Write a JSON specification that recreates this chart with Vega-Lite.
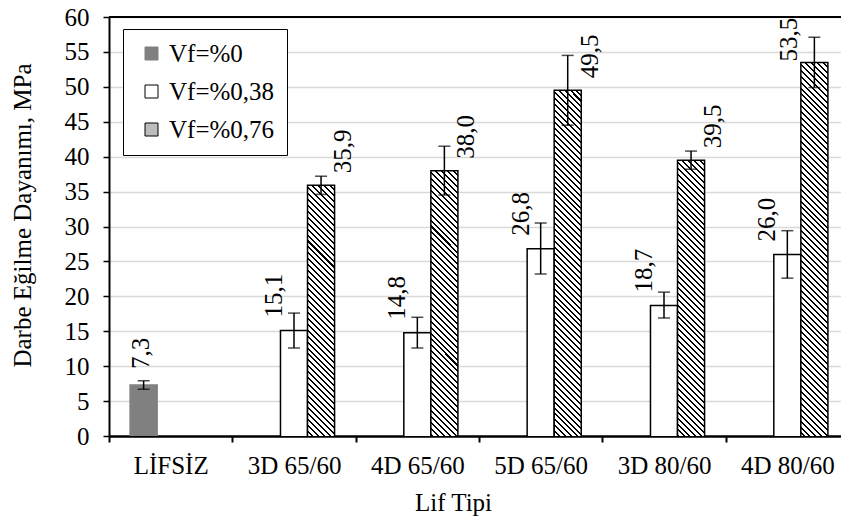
{
  "$schema": "https://vega.github.io/schema/vega-lite/v6.json",
  "width": 732,
  "height": 419,
  "autosize": {"type": "none"},
  "padding": {"left": 109, "top": 17, "right": 0, "bottom": 84},
  "config": {
    "font": "Liberation Serif",
    "view": {"stroke": null},
    "locale": {"number": {"decimal": ",", "thousands": ".", "grouping": [3], "currency": ["", ""]}},
    "text": {"font": "Liberation Serif"},
    "axis": {"labelFont": "Liberation Serif", "titleFont": "Liberation Serif", "labelFontSize": 25, "titleFontSize": 25, "labelColor": "black", "titleColor": "black", "titleFontWeight": "normal", "domainColor": "black", "tickColor": "black", "labelOverlap": false},
    "axisY": {"tickCount": 30, "labelOverlap": false},
    "legend": {"labelFont": "Liberation Serif", "orient": "none", "legendX": 14, "legendY": 12, "labelFontSize": 25, "labelColor": "black", "symbolType": "square", "symbolSize": 169, "symbolStrokeWidth": 1, "strokeColor": "black", "fillColor": "white", "padding": 12, "rowPadding": 12, "labelOffset": 5, "symbolOffset": 4}
  },
  "data": {"values": [
    {"Lif": "LİFSİZ", "Vf": "Vf=%0", "value": 7.3, "lo": 6.7, "hi": 7.9},
    {"Lif": "3D 65/60", "Vf": "Vf=%0,38", "value": 15.1, "lo": 12.6, "hi": 17.6},
    {"Lif": "3D 65/60", "Vf": "Vf=%0,76", "value": 35.9, "lo": 34.6, "hi": 37.2},
    {"Lif": "4D 65/60", "Vf": "Vf=%0,38", "value": 14.8, "lo": 12.6, "hi": 17.0},
    {"Lif": "4D 65/60", "Vf": "Vf=%0,76", "value": 38.0, "lo": 34.5, "hi": 41.5},
    {"Lif": "5D 65/60", "Vf": "Vf=%0,38", "value": 26.8, "lo": 23.2, "hi": 30.5},
    {"Lif": "5D 65/60", "Vf": "Vf=%0,76", "value": 49.5, "lo": 44.5, "hi": 54.5},
    {"Lif": "3D 80/60", "Vf": "Vf=%0,38", "value": 18.7, "lo": 16.9, "hi": 20.6},
    {"Lif": "3D 80/60", "Vf": "Vf=%0,76", "value": 39.5, "lo": 38.2, "hi": 40.8},
    {"Lif": "4D 80/60", "Vf": "Vf=%0,38", "value": 26.0, "lo": 22.6, "hi": 29.4},
    {"Lif": "4D 80/60", "Vf": "Vf=%0,76", "value": 53.5, "lo": 49.9, "hi": 57.1}
  ]},
  "layer": [
    {
      "mark": {"type": "bar", "clip": true, "y2Offset": 419, "strokeWidth": 1.5},
      "encoding": {
        "x": {"field": "Lif", "type": "nominal", "sort": null,
          "scale": {"domain": ["LİFSİZ", "3D 65/60", "4D 65/60", "5D 65/60", "3D 80/60", "4D 80/60"], "range": [0, 740], "paddingInner": 0, "paddingOuter": 0},
          "axis": {"title": "Lif Tipi", "tickBand": "extent", "labelAngle": 0, "tickSize": 6, "tickWidth": 2, "domainWidth": 2.5, "labelPadding": 11, "titleX": 344, "titleY": 74, "titleAlign": "center", "titleBaseline": "alphabetic", "grid": false}},
        "xOffset": {"field": "Vf", "type": "nominal", "scale": {"domain": ["Vf=%0", "Vf=%0,38", "Vf=%0,76"], "paddingInner": 0, "paddingOuter": 0.78}},
        "y": {"field": "value", "type": "quantitative",
          "scale": {"domain": [0, 60], "nice": false},
          "axis": {"title": "Darbe Eğilme Dayanımı, MPa", "values": [0, 5, 10, 15, 20, 25, 30, 35, 40, 45, 50, 55, 60], "tickCount": 30, "labelOverlap": false, "grid": true, "gridColor": "#d9d9d9", "gridWidth": 1.3, "tickSize": 6, "tickWidth": 1.5, "domainWidth": 2, "labelPadding": 14, "titleX": -87, "titleY": 198, "titleAngle": 270, "titleAlign": "center", "titleBaseline": "middle"}},
        "y2": {"field": "value"},
        "fill": {"field": "Vf", "type": "nominal", "legend": {"title": null},
          "scale": {"domain": ["Vf=%0", "Vf=%0,38", "Vf=%0,76"], "range": ["#808080", "#ffffff", "#bdbdbd"]},
          "condition": {"test": {"field": "Vf", "equal": "Vf=%0,76"}, "value":
            {"gradient": "linear", "x1": 0, "y1": 1, "x2": 0.06844, "y2": -0.0601, "stops": [
{"offset":0,"color":"#000"},{"offset":0.0045,"color":"#000"},{"offset":0.0045,"color":"#fff"},{"offset":0.01333,"color":"#fff"},
{"offset":0.01333,"color":"#000"},{"offset":0.01783,"color":"#000"},{"offset":0.01783,"color":"#fff"},{"offset":0.02667,"color":"#fff"},
{"offset":0.02667,"color":"#000"},{"offset":0.03117,"color":"#000"},{"offset":0.03117,"color":"#fff"},{"offset":0.04,"color":"#fff"},
{"offset":0.04,"color":"#000"},{"offset":0.0445,"color":"#000"},{"offset":0.0445,"color":"#fff"},{"offset":0.05333,"color":"#fff"},
{"offset":0.05333,"color":"#000"},{"offset":0.05783,"color":"#000"},{"offset":0.05783,"color":"#fff"},{"offset":0.06667,"color":"#fff"},
{"offset":0.06667,"color":"#000"},{"offset":0.07117,"color":"#000"},{"offset":0.07117,"color":"#fff"},{"offset":0.08,"color":"#fff"},
{"offset":0.08,"color":"#000"},{"offset":0.0845,"color":"#000"},{"offset":0.0845,"color":"#fff"},{"offset":0.09333,"color":"#fff"},
{"offset":0.09333,"color":"#000"},{"offset":0.09783,"color":"#000"},{"offset":0.09783,"color":"#fff"},{"offset":0.10667,"color":"#fff"},
{"offset":0.10667,"color":"#000"},{"offset":0.11117,"color":"#000"},{"offset":0.11117,"color":"#fff"},{"offset":0.12,"color":"#fff"},
{"offset":0.12,"color":"#000"},{"offset":0.1245,"color":"#000"},{"offset":0.1245,"color":"#fff"},{"offset":0.13333,"color":"#fff"},
{"offset":0.13333,"color":"#000"},{"offset":0.13783,"color":"#000"},{"offset":0.13783,"color":"#fff"},{"offset":0.14667,"color":"#fff"},
{"offset":0.14667,"color":"#000"},{"offset":0.15117,"color":"#000"},{"offset":0.15117,"color":"#fff"},{"offset":0.16,"color":"#fff"},
{"offset":0.16,"color":"#000"},{"offset":0.1645,"color":"#000"},{"offset":0.1645,"color":"#fff"},{"offset":0.17333,"color":"#fff"},
{"offset":0.17333,"color":"#000"},{"offset":0.17783,"color":"#000"},{"offset":0.17783,"color":"#fff"},{"offset":0.18667,"color":"#fff"},
{"offset":0.18667,"color":"#000"},{"offset":0.19117,"color":"#000"},{"offset":0.19117,"color":"#fff"},{"offset":0.2,"color":"#fff"},
{"offset":0.2,"color":"#000"},{"offset":0.2045,"color":"#000"},{"offset":0.2045,"color":"#fff"},{"offset":0.21333,"color":"#fff"},
{"offset":0.21333,"color":"#000"},{"offset":0.21783,"color":"#000"},{"offset":0.21783,"color":"#fff"},{"offset":0.22667,"color":"#fff"},
{"offset":0.22667,"color":"#000"},{"offset":0.23117,"color":"#000"},{"offset":0.23117,"color":"#fff"},{"offset":0.24,"color":"#fff"},
{"offset":0.24,"color":"#000"},{"offset":0.2445,"color":"#000"},{"offset":0.2445,"color":"#fff"},{"offset":0.25333,"color":"#fff"},
{"offset":0.25333,"color":"#000"},{"offset":0.25783,"color":"#000"},{"offset":0.25783,"color":"#fff"},{"offset":0.26667,"color":"#fff"},
{"offset":0.26667,"color":"#000"},{"offset":0.27117,"color":"#000"},{"offset":0.27117,"color":"#fff"},{"offset":0.28,"color":"#fff"},
{"offset":0.28,"color":"#000"},{"offset":0.2845,"color":"#000"},{"offset":0.2845,"color":"#fff"},{"offset":0.29333,"color":"#fff"},
{"offset":0.29333,"color":"#000"},{"offset":0.29783,"color":"#000"},{"offset":0.29783,"color":"#fff"},{"offset":0.30667,"color":"#fff"},
{"offset":0.30667,"color":"#000"},{"offset":0.31117,"color":"#000"},{"offset":0.31117,"color":"#fff"},{"offset":0.32,"color":"#fff"},
{"offset":0.32,"color":"#000"},{"offset":0.3245,"color":"#000"},{"offset":0.3245,"color":"#fff"},{"offset":0.33333,"color":"#fff"},
{"offset":0.33333,"color":"#000"},{"offset":0.33783,"color":"#000"},{"offset":0.33783,"color":"#fff"},{"offset":0.34667,"color":"#fff"},
{"offset":0.34667,"color":"#000"},{"offset":0.35117,"color":"#000"},{"offset":0.35117,"color":"#fff"},{"offset":0.36,"color":"#fff"},
{"offset":0.36,"color":"#000"},{"offset":0.3645,"color":"#000"},{"offset":0.3645,"color":"#fff"},{"offset":0.37333,"color":"#fff"},
{"offset":0.37333,"color":"#000"},{"offset":0.37783,"color":"#000"},{"offset":0.37783,"color":"#fff"},{"offset":0.38667,"color":"#fff"},
{"offset":0.38667,"color":"#000"},{"offset":0.39117,"color":"#000"},{"offset":0.39117,"color":"#fff"},{"offset":0.4,"color":"#fff"},
{"offset":0.4,"color":"#000"},{"offset":0.4045,"color":"#000"},{"offset":0.4045,"color":"#fff"},{"offset":0.41333,"color":"#fff"},
{"offset":0.41333,"color":"#000"},{"offset":0.41783,"color":"#000"},{"offset":0.41783,"color":"#fff"},{"offset":0.42667,"color":"#fff"},
{"offset":0.42667,"color":"#000"},{"offset":0.43117,"color":"#000"},{"offset":0.43117,"color":"#fff"},{"offset":0.44,"color":"#fff"},
{"offset":0.44,"color":"#000"},{"offset":0.4445,"color":"#000"},{"offset":0.4445,"color":"#fff"},{"offset":0.45333,"color":"#fff"},
{"offset":0.45333,"color":"#000"},{"offset":0.45783,"color":"#000"},{"offset":0.45783,"color":"#fff"},{"offset":0.46667,"color":"#fff"},
{"offset":0.46667,"color":"#000"},{"offset":0.47117,"color":"#000"},{"offset":0.47117,"color":"#fff"},{"offset":0.48,"color":"#fff"},
{"offset":0.48,"color":"#000"},{"offset":0.4845,"color":"#000"},{"offset":0.4845,"color":"#fff"},{"offset":0.49333,"color":"#fff"},
{"offset":0.49333,"color":"#000"},{"offset":0.49783,"color":"#000"},{"offset":0.49783,"color":"#fff"},{"offset":0.50667,"color":"#fff"},
{"offset":0.50667,"color":"#000"},{"offset":0.51117,"color":"#000"},{"offset":0.51117,"color":"#fff"},{"offset":0.52,"color":"#fff"},
{"offset":0.52,"color":"#000"},{"offset":0.5245,"color":"#000"},{"offset":0.5245,"color":"#fff"},{"offset":0.53333,"color":"#fff"},
{"offset":0.53333,"color":"#000"},{"offset":0.53783,"color":"#000"},{"offset":0.53783,"color":"#fff"},{"offset":0.54667,"color":"#fff"},
{"offset":0.54667,"color":"#000"},{"offset":0.55117,"color":"#000"},{"offset":0.55117,"color":"#fff"},{"offset":0.56,"color":"#fff"},
{"offset":0.56,"color":"#000"},{"offset":0.5645,"color":"#000"},{"offset":0.5645,"color":"#fff"},{"offset":0.57333,"color":"#fff"},
{"offset":0.57333,"color":"#000"},{"offset":0.57783,"color":"#000"},{"offset":0.57783,"color":"#fff"},{"offset":0.58667,"color":"#fff"},
{"offset":0.58667,"color":"#000"},{"offset":0.59117,"color":"#000"},{"offset":0.59117,"color":"#fff"},{"offset":0.6,"color":"#fff"},
{"offset":0.6,"color":"#000"},{"offset":0.6045,"color":"#000"},{"offset":0.6045,"color":"#fff"},{"offset":0.61333,"color":"#fff"},
{"offset":0.61333,"color":"#000"},{"offset":0.61783,"color":"#000"},{"offset":0.61783,"color":"#fff"},{"offset":0.62667,"color":"#fff"},
{"offset":0.62667,"color":"#000"},{"offset":0.63117,"color":"#000"},{"offset":0.63117,"color":"#fff"},{"offset":0.64,"color":"#fff"},
{"offset":0.64,"color":"#000"},{"offset":0.6445,"color":"#000"},{"offset":0.6445,"color":"#fff"},{"offset":0.65333,"color":"#fff"},
{"offset":0.65333,"color":"#000"},{"offset":0.65783,"color":"#000"},{"offset":0.65783,"color":"#fff"},{"offset":0.66667,"color":"#fff"},
{"offset":0.66667,"color":"#000"},{"offset":0.67117,"color":"#000"},{"offset":0.67117,"color":"#fff"},{"offset":0.68,"color":"#fff"},
{"offset":0.68,"color":"#000"},{"offset":0.6845,"color":"#000"},{"offset":0.6845,"color":"#fff"},{"offset":0.69333,"color":"#fff"},
{"offset":0.69333,"color":"#000"},{"offset":0.69783,"color":"#000"},{"offset":0.69783,"color":"#fff"},{"offset":0.70667,"color":"#fff"},
{"offset":0.70667,"color":"#000"},{"offset":0.71117,"color":"#000"},{"offset":0.71117,"color":"#fff"},{"offset":0.72,"color":"#fff"},
{"offset":0.72,"color":"#000"},{"offset":0.7245,"color":"#000"},{"offset":0.7245,"color":"#fff"},{"offset":0.73333,"color":"#fff"},
{"offset":0.73333,"color":"#000"},{"offset":0.73783,"color":"#000"},{"offset":0.73783,"color":"#fff"},{"offset":0.74667,"color":"#fff"},
{"offset":0.74667,"color":"#000"},{"offset":0.75117,"color":"#000"},{"offset":0.75117,"color":"#fff"},{"offset":0.76,"color":"#fff"},
{"offset":0.76,"color":"#000"},{"offset":0.7645,"color":"#000"},{"offset":0.7645,"color":"#fff"},{"offset":0.77333,"color":"#fff"},
{"offset":0.77333,"color":"#000"},{"offset":0.77783,"color":"#000"},{"offset":0.77783,"color":"#fff"},{"offset":0.78667,"color":"#fff"},
{"offset":0.78667,"color":"#000"},{"offset":0.79117,"color":"#000"},{"offset":0.79117,"color":"#fff"},{"offset":0.8,"color":"#fff"},
{"offset":0.8,"color":"#000"},{"offset":0.8045,"color":"#000"},{"offset":0.8045,"color":"#fff"},{"offset":0.81333,"color":"#fff"},
{"offset":0.81333,"color":"#000"},{"offset":0.81783,"color":"#000"},{"offset":0.81783,"color":"#fff"},{"offset":0.82667,"color":"#fff"},
{"offset":0.82667,"color":"#000"},{"offset":0.83117,"color":"#000"},{"offset":0.83117,"color":"#fff"},{"offset":0.84,"color":"#fff"},
{"offset":0.84,"color":"#000"},{"offset":0.8445,"color":"#000"},{"offset":0.8445,"color":"#fff"},{"offset":0.85333,"color":"#fff"},
{"offset":0.85333,"color":"#000"},{"offset":0.85783,"color":"#000"},{"offset":0.85783,"color":"#fff"},{"offset":0.86667,"color":"#fff"},
{"offset":0.86667,"color":"#000"},{"offset":0.87117,"color":"#000"},{"offset":0.87117,"color":"#fff"},{"offset":0.88,"color":"#fff"},
{"offset":0.88,"color":"#000"},{"offset":0.8845,"color":"#000"},{"offset":0.8845,"color":"#fff"},{"offset":0.89333,"color":"#fff"},
{"offset":0.89333,"color":"#000"},{"offset":0.89783,"color":"#000"},{"offset":0.89783,"color":"#fff"},{"offset":0.90667,"color":"#fff"},
{"offset":0.90667,"color":"#000"},{"offset":0.91117,"color":"#000"},{"offset":0.91117,"color":"#fff"},{"offset":0.92,"color":"#fff"},
{"offset":0.92,"color":"#000"},{"offset":0.9245,"color":"#000"},{"offset":0.9245,"color":"#fff"},{"offset":0.93333,"color":"#fff"},
{"offset":0.93333,"color":"#000"},{"offset":0.93783,"color":"#000"},{"offset":0.93783,"color":"#fff"},{"offset":0.94667,"color":"#fff"},
{"offset":0.94667,"color":"#000"},{"offset":0.95117,"color":"#000"},{"offset":0.95117,"color":"#fff"},{"offset":0.96,"color":"#fff"},
{"offset":0.96,"color":"#000"},{"offset":0.9645,"color":"#000"},{"offset":0.9645,"color":"#fff"},{"offset":0.97333,"color":"#fff"},
{"offset":0.97333,"color":"#000"},{"offset":0.97783,"color":"#000"},{"offset":0.97783,"color":"#fff"},{"offset":0.98667,"color":"#fff"},
{"offset":0.98667,"color":"#000"},{"offset":0.99117,"color":"#000"},{"offset":0.99117,"color":"#fff"},{"offset":1,"color":"#fff"}
            ]}
          }},
        "stroke": {"field": "Vf", "type": "nominal", "legend": {"title": null},
          "scale": {"domain": ["Vf=%0", "Vf=%0,38", "Vf=%0,76"], "range": ["#808080", "#000000", "#000000"]}}
      }
    },
    {
      "mark": {"type": "rule", "color": "black", "strokeWidth": 1.5},
      "encoding": {
        "x": {"field": "Lif", "type": "nominal", "sort": null},
        "xOffset": {"field": "Vf", "type": "nominal"},
        "y": {"field": "lo", "type": "quantitative"},
        "y2": {"field": "hi"}
      }
    },
    {
      "mark": {"type": "tick", "color": "black", "thickness": 1.5, "size": 12},
      "encoding": {
        "x": {"field": "Lif", "type": "nominal", "sort": null},
        "xOffset": {"field": "Vf", "type": "nominal"},
        "y": {"field": "lo", "type": "quantitative"}
      }
    },
    {
      "mark": {"type": "tick", "color": "black", "thickness": 1.5, "size": 12},
      "encoding": {
        "x": {"field": "Lif", "type": "nominal", "sort": null},
        "xOffset": {"field": "Vf", "type": "nominal"},
        "y": {"field": "hi", "type": "quantitative"}
      }
    },
    {
      "transform": [{"filter": {"field": "Vf", "equal": "Vf=%0"}}],
      "mark": {"type": "text", "font": "Liberation Serif", "angle": 270, "align": "left", "baseline": "middle", "fontSize": 25, "color": "black", "dx": 16, "dy": -3},
      "encoding": {
        "x": {"field": "Lif", "type": "nominal", "sort": null},
        "xOffset": {"field": "Vf", "type": "nominal"},
        "y": {"field": "value", "type": "quantitative"},
        "text": {"field": "value", "type": "quantitative", "format": ".1f"}
      }
    },
    {
      "transform": [{"filter": {"field": "Vf", "equal": "Vf=%0,38"}}],
      "mark": {"type": "text", "font": "Liberation Serif", "angle": 270, "align": "left", "baseline": "middle", "fontSize": 25, "color": "black", "dx": 13, "dy": -20},
      "encoding": {
        "x": {"field": "Lif", "type": "nominal", "sort": null},
        "xOffset": {"field": "Vf", "type": "nominal"},
        "y": {"field": "value", "type": "quantitative"},
        "text": {"field": "value", "type": "quantitative", "format": ".1f"}
      }
    },
    {
      "transform": [{"filter": {"and": [{"field": "Vf", "equal": "Vf=%0,76"}, {"not": {"field": "Lif", "equal": "4D 80/60"}}]}}],
      "mark": {"type": "text", "font": "Liberation Serif", "angle": 270, "align": "left", "baseline": "middle", "fontSize": 25, "color": "black", "dx": 12, "dy": 22},
      "encoding": {
        "x": {"field": "Lif", "type": "nominal", "sort": null},
        "xOffset": {"field": "Vf", "type": "nominal"},
        "y": {"field": "value", "type": "quantitative"},
        "text": {"field": "value", "type": "quantitative", "format": ".1f"}
      }
    },
    {
      "transform": [{"filter": {"and": [{"field": "Vf", "equal": "Vf=%0,76"}, {"field": "Lif", "equal": "4D 80/60"}]}}],
      "mark": {"type": "text", "font": "Liberation Serif", "angle": 270, "align": "left", "baseline": "middle", "fontSize": 25, "color": "black", "dx": 1, "dy": -25},
      "encoding": {
        "x": {"field": "Lif", "type": "nominal", "sort": null},
        "xOffset": {"field": "Vf", "type": "nominal"},
        "y": {"field": "value", "type": "quantitative"},
        "text": {"field": "value", "type": "quantitative", "format": ".1f"}
      }
    },
    {
      "data": {"values": [{"top": 60}]},
      "mark": {"type": "rule", "color": "black", "strokeWidth": 2},
      "encoding": {"y": {"field": "top", "type": "quantitative"}}
    }
  ]
}
